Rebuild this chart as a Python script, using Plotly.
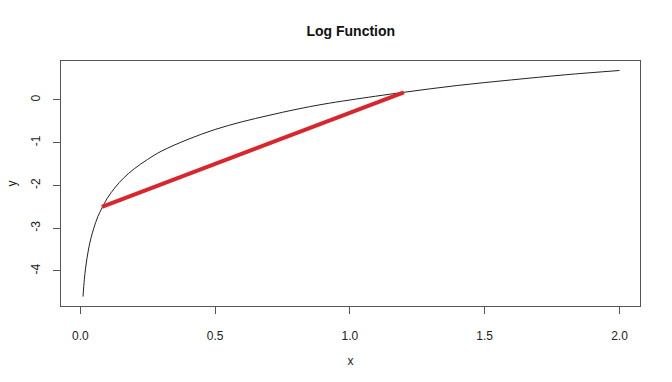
import plotly.graph_objects as go

# Curve values
curve_x = [0.01, 0.015, 0.02, 0.03, 0.04, 0.05, 0.065, 0.08, 0.1, 0.13, 0.16, 0.2, 0.25,
           0.3, 0.4, 0.5, 0.6, 0.7, 0.8, 0.9, 1.0, 1.2, 1.4, 1.6, 1.8, 2.0]
curve_y = [-4.6, -4.2, -3.91, -3.51, -3.22, -3.0, -2.73, -2.53, -2.3, -2.04, -1.83, -1.61, -1.39,
           -1.2, -0.92, -0.69, -0.51, -0.36, -0.22, -0.1, 0.0, 0.18, 0.34, 0.47, 0.59, 0.69]

# Secant segment
seg_x = [0.08, 1.2]
seg_y = [-2.5, 0.18]

x_ticks = [0.0, 0.5, 1.0, 1.5, 2.0]
x_tick_labels = ["0.0", "0.5", "1.0", "1.5", "2.0"]
y_ticks = [-4, -3, -2, -1, 0]
y_tick_labels = ["-4", "-3", "-2", "-1", "0"]

fig = go.Figure()
fig.add_trace(go.Scatter(x=curve_x, y=curve_y, mode="lines",
                         line=dict(color="#222222", width=1, shape="spline"),
                         showlegend=False, hoverinfo="skip"))
fig.add_trace(go.Scatter(x=seg_x, y=seg_y, mode="lines",
                         line=dict(color="#d9262c", width=4),
                         showlegend=False, hoverinfo="skip"))

font = "Liberation Sans, Arial, sans-serif"
fig.update_layout(
    width=672, height=382,
    margin=dict(l=61, r=32, t=61, b=76),
    paper_bgcolor="white", plot_bgcolor="white",
    font=dict(family=font, size=12, color="#222222"),
    title=dict(text="<b>Log Function</b>", x=0.522, xanchor="center",
               y=1 - 31 / 382, yanchor="middle",
               font=dict(family=font, size=14, color="#111111")),
)
fig.update_xaxes(
    range=[-0.0716, 2.076], tickvals=x_ticks, ticktext=x_tick_labels,
    showgrid=False, zeroline=False, showline=True, linecolor="#555555", linewidth=1,
    mirror=True, ticks="outside", ticklen=7, tickcolor="#555555",
    ticklabelstandoff=12, automargin=False,
    title=dict(text="x", standoff=14, font=dict(size=12)),
)
fig.update_yaxes(
    range=[-4.82, 0.912], tickvals=y_ticks, ticktext=y_tick_labels,
    showgrid=False, zeroline=False, showline=True, linecolor="#555555", linewidth=1,
    mirror=True, ticks="outside", ticklen=7, tickcolor="#555555",
    tickangle=-90, ticklabelstandoff=8, automargin=False,
    title=dict(text="y", standoff=10, font=dict(size=12)),
)

fig.write_html("out.html")
